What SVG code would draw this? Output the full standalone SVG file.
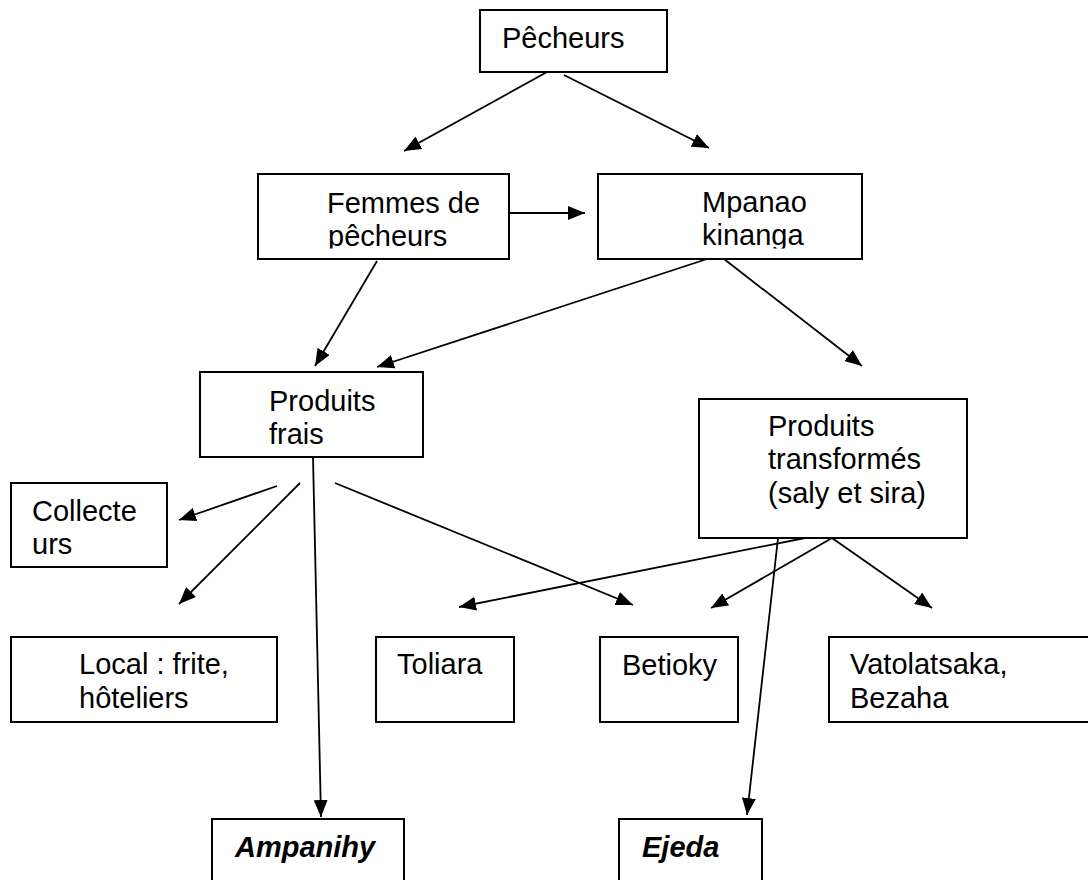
<svg xmlns="http://www.w3.org/2000/svg" width="1088" height="880" viewBox="0 0 1088 880">
<style>
  .box { fill: #fff; stroke: #000; stroke-width: 2; }
  .t { font-family: "Liberation Sans", Arial, sans-serif; font-size: 29px; fill: #000; }
  .bi { font-weight: bold; font-style: italic; }
  .c line { stroke: #000; stroke-width: 1.8; marker-end: url(#ah); }
</style>
<defs>
  <marker id="ah" viewBox="0 0 17 14" refX="17" refY="7" markerWidth="17" markerHeight="14" markerUnits="userSpaceOnUse" orient="auto">
    <path d="M0,0 L17,7 L0,14 z" fill="#000"/>
  </marker>
  <clipPath id="clipF"><rect x="258" y="174" width="251" height="74.5"/></clipPath>
  <clipPath id="clipM"><rect x="598" y="174" width="264" height="74.5"/></clipPath>
</defs>
<rect width="1088" height="880" fill="#fff"/>

<g class="c" id="connectors">
  <line x1="547" y1="72" x2="404" y2="151"/>
  <line x1="564" y1="75" x2="709" y2="148"/>
  <line x1="509" y1="213" x2="585" y2="213"/>
  <line x1="377" y1="261" x2="315" y2="366"/>
  <line x1="707" y1="259" x2="377" y2="367"/>
  <line x1="724" y1="259" x2="862" y2="366"/>
  <line x1="277" y1="486" x2="179" y2="520"/>
  <line x1="300" y1="483" x2="179" y2="604"/>
  <line x1="313" y1="457" x2="321" y2="817"/>
  <line x1="335" y1="483" x2="633" y2="605"/>
  <line x1="805" y1="538" x2="459" y2="607"/>
  <line x1="832" y1="538" x2="711" y2="608"/>
  <line x1="832" y1="538" x2="932" y2="608"/>
  <line x1="778" y1="538" x2="747" y2="815"/>
</g>

<g id="pecheurs">
  <rect class="box" x="480" y="10" width="187" height="62"/>
  <text class="t" x="502" y="48">Pêcheurs</text>
</g>
<g id="femmes">
  <rect class="box" x="258" y="174" width="251" height="85"/>
  <g clip-path="url(#clipF)">
    <text class="t" x="327" y="213">Femmes de</text>
    <text class="t" x="328" y="246">pêcheurs</text>
  </g>
</g>
<g id="mpanao">
  <rect class="box" x="598" y="174" width="264" height="85"/>
  <g clip-path="url(#clipM)">
    <text class="t" x="702" y="212">Mpanao</text>
    <text class="t" x="702" y="245">kinanga</text>
  </g>
</g>
<g id="frais">
  <rect class="box" x="200" y="372" width="223" height="85"/>
  <text class="t" x="269" y="411">Produits</text>
  <text class="t" x="269" y="444">frais</text>
</g>
<g id="transformes">
  <rect class="box" x="699" y="399" width="268" height="139"/>
  <text class="t" x="768" y="436">Produits</text>
  <text class="t" x="768" y="469">transformés</text>
  <text class="t" x="768" y="503">(saly et sira)</text>
</g>
<g id="collecteurs">
  <rect class="box" x="11" y="483" width="156" height="84"/>
  <text class="t" x="32" y="521">Collecte</text>
  <text class="t" x="32" y="554">urs</text>
</g>
<g id="local">
  <rect class="box" x="11" y="637" width="266" height="85"/>
  <text class="t" x="79" y="674">Local : frite,</text>
  <text class="t" x="79" y="708">hôteliers</text>
</g>
<g id="toliara">
  <rect class="box" x="376" y="637" width="138" height="85"/>
  <text class="t" x="397" y="674">Toliara</text>
</g>
<g id="betioky">
  <rect class="box" x="600" y="637" width="138" height="85"/>
  <text class="t" x="622" y="675">Betioky</text>
</g>
<g id="vatolatsaka">
  <rect class="box" x="829" y="637" width="262" height="85"/>
  <text class="t" x="850" y="674">Vatolatsaka,</text>
  <text class="t" x="850" y="708">Bezaha</text>
</g>
<g id="ampanihy">
  <rect class="box" x="212" y="819" width="192" height="72"/>
  <text class="t bi" x="235" y="857">Ampanihy</text>
</g>
<g id="ejeda">
  <rect class="box" x="619" y="819" width="143" height="72"/>
  <text class="t bi" x="642" y="857">Ejeda</text>
</g>
</svg>
